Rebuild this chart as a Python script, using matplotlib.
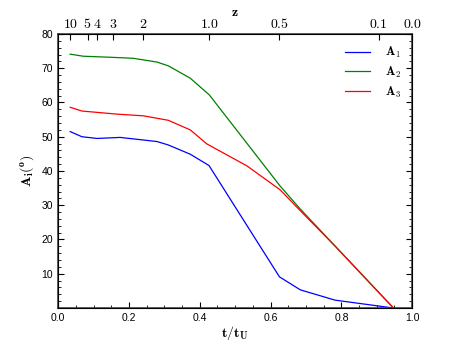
import matplotlib
matplotlib.use('Agg')
import matplotlib.pyplot as plt
import numpy as np

plt.rcParams['mathtext.fontset'] = 'cm'
plt.rcParams['font.family'] = 'Liberation Sans'

# curves A_i vs t/t_U
t_a1 = [0.034, 0.067, 0.110, 0.175, 0.279, 0.311, 0.373, 0.426, 0.625, 0.684, 0.782, 0.947]
a1 = [51.5, 50.0, 49.5, 49.8, 48.6, 47.6, 44.9, 41.6, 9.1, 5.3, 2.3, 0.0]

t_a2 = [0.034, 0.071, 0.147, 0.212, 0.279, 0.311, 0.373, 0.427, 0.533, 0.627, 0.682, 0.782, 0.947]
a2 = [74.1, 73.5, 73.2, 72.9, 71.8, 70.7, 67.1, 62.2, 48.1, 35.6, 29.1, 18.1, 0.0]

t_a3 = [0.034, 0.067, 0.166, 0.241, 0.311, 0.373, 0.420, 0.533, 0.627, 0.682, 0.782, 0.947]
a3 = [58.6, 57.5, 56.6, 56.1, 54.8, 52.0, 47.9, 41.5, 34.5, 28.6, 18.1, 0.0]

# redshift axis on top
z_pos = [0.034, 0.083, 0.110, 0.156, 0.239, 0.427, 0.625, 0.905, 1.0]
z_labels = ['10', '5', '4', '3', '2', '1.0', '0.5', '0.1', '0.0']

fig = plt.figure(figsize=(4.58, 3.43), dpi=100)
ax = fig.add_axes([0.127, 0.102, 0.773, 0.799])

ax.plot(t_a1, a1, color='blue', lw=0.9, label=r'$\mathbf{A_1}$')
ax.plot(t_a2, a2, color='green', lw=0.9, label=r'$\mathbf{A_2}$')
ax.plot(t_a3, a3, color='red', lw=0.9, label=r'$\mathbf{A_3}$')

ax.set_xlim(0, 1)
ax.set_ylim(0, 80)
ax.set_xticks(np.arange(0, 1.01, 0.2))
ax.set_xticks(np.arange(0, 1.01, 0.05), minor=True)
ax.set_yticks(np.arange(10, 81, 10))
ax.set_yticks(np.arange(0, 81, 2), minor=True)
ax.tick_params(which='both', direction='in', labelsize=7.5, right=True, top=False)
ax.tick_params(which='major', length=4)
ax.tick_params(which='minor', length=2)
ax.set_xlabel(r'$\mathbf{t/t_U}$', fontsize=10, labelpad=1)
ax.set_ylabel(r'$\mathbf{A_i(^o)}$', fontsize=10, labelpad=4)

leg = ax.legend(loc='upper right', frameon=False, fontsize=9, handlelength=2.0,
                labelspacing=0.35, handletextpad=1.2)

ax2 = ax.twiny()
ax2.set_xlim(0, 1)
ax2.set_xticks(z_pos)
ax2.set_xticklabels(['$' + s + '$' for s in z_labels], fontsize=10)
ax2.tick_params(direction='in', length=4, pad=2)
ax2.set_xlabel(r'$\mathbf{z}$', fontsize=10, labelpad=1)

for sp in ax.spines.values():
    sp.set_linewidth(1.2)
    sp.set_color('#444444')

fig.savefig('out.png', dpi=100)
